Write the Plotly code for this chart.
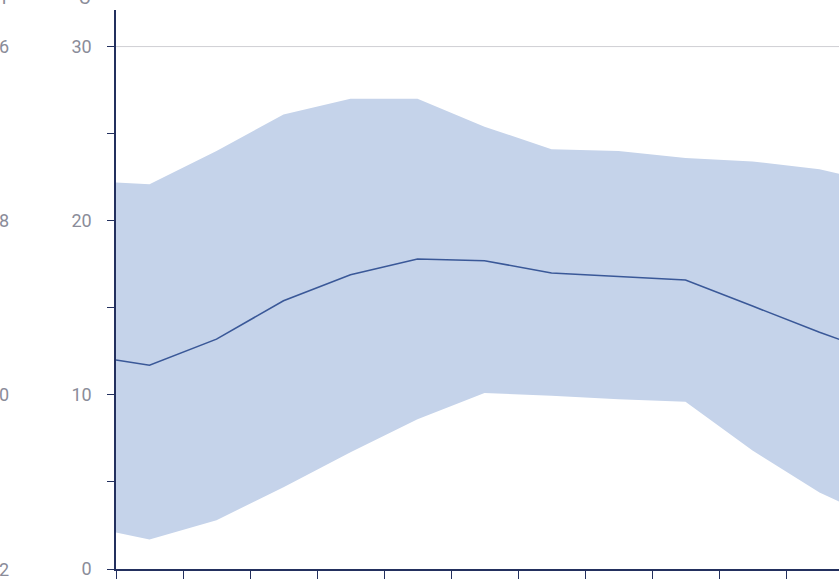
import plotly.graph_objects as go

# ---- data ----
x_pos = [0, 0.5, 1.5, 2.5, 3.5, 4.5, 5.5, 6.5, 7.5, 8.5, 9.5, 10.5, 11.5]
mean_c = [12.0, 11.7, 13.2, 15.4, 16.9, 17.8, 17.7, 17.0, 16.8, 16.6, 15.1, 13.6, 12.2]
upper_c = [22.2, 22.1, 24.0, 26.1, 27.0, 27.0, 25.4, 24.1, 24.0, 23.6, 23.4, 22.95, 22.1]
lower_c = [2.1, 1.7, 2.8, 4.7, 6.7, 8.6, 10.1, 9.95, 9.75, 9.6, 6.8, 4.4, 2.6]

c_ticks = [0, 10, 20, 30]
f_labels = ["32", "50", "68", "86"]
x_ticks = [0, 1, 2, 3, 4, 5, 6, 7, 8, 9, 10, 11]

W, H = 839, 579
ML, MR, MT, MB = 116, 0, 10, 4
plot_w = W - ML - MR
plot_h = H - MT - MB

band_color = "rgb(197,211,234)"
line_color = "#3a5898"
axis_color = "#23305e"
label_color = "#8a8c99"
font_family = "Roboto, 'Noto Sans', sans-serif"
fsize = 18

fig = go.Figure()
fig.add_trace(go.Scatter(x=x_pos, y=upper_c, mode="lines",
                         line=dict(width=0, color=band_color),
                         hoverinfo="skip", showlegend=False))
fig.add_trace(go.Scatter(x=x_pos, y=lower_c, mode="lines",
                         line=dict(width=0, color=band_color),
                         fill="tonexty", fillcolor=band_color,
                         hoverinfo="skip", showlegend=False))
fig.add_trace(go.Scatter(x=x_pos, y=mean_c, mode="lines",
                         line=dict(width=1.6, color=line_color),
                         showlegend=False))

# light reference line at the top tick
fig.add_shape(type="line", xref="paper", x0=0, x1=1, yref="y", y0=c_ticks[-1], y1=c_ticks[-1],
              line=dict(color="#cfcfd4", width=1), layer="below")

# Fahrenheit labels on the far left (cut off in the reference)
f_x = (11 - ML) / plot_w
for c, f in zip(c_ticks, f_labels):
    fig.add_annotation(x=f_x, xref="paper", y=c, yref="y", text=f, showarrow=False,
                       xanchor="right", yanchor="middle",
                       font=dict(size=fsize, color=label_color, family=font_family))

# unit titles, mostly above the visible area
title_y = (H - MB - 10) / plot_h
fig.add_annotation(x=(14 - ML) / plot_w, xref="paper", y=title_y,
                   yref="paper", text="°F", showarrow=False, xanchor="right", yanchor="bottom",
                   font=dict(size=fsize, color=label_color, family=font_family))
fig.add_annotation(x=(92 - ML) / plot_w, xref="paper", y=title_y,
                   yref="paper", text="°C", showarrow=False, xanchor="right", yanchor="bottom",
                   font=dict(size=fsize, color=label_color, family=font_family))

fig.update_layout(
    width=W, height=H,
    margin=dict(l=ML, r=MR, t=MT, b=MB, pad=0),
    paper_bgcolor="white", plot_bgcolor="white",
    font=dict(family=font_family, size=fsize, color=label_color),
    xaxis=dict(range=[0, plot_w / 67.0], tickvals=x_ticks, showticklabels=False,
               ticks="outside", ticklen=8, tickcolor=axis_color, tickwidth=1.2,
               showline=True, linecolor=axis_color, linewidth=1.5,
               showgrid=False, zeroline=False, fixedrange=True),
    yaxis=dict(range=[0, 32.1], tickvals=c_ticks,
               ticks="outside", ticklen=7, tickcolor=axis_color, tickwidth=1.2,
               minor=dict(ticks="outside", dtick=5, ticklen=7, tickcolor=axis_color, tickwidth=1.2,
                          showgrid=False),
               ticklabelstandoff=12, ticklabeloverflow="allow",
               showline=True, linecolor=axis_color, linewidth=1.5,
               showgrid=False, zeroline=False,
               tickfont=dict(size=fsize, color=label_color, family=font_family)),
)

fig.write_html("out.html", config={"displayModeBar": False},
               post_script="document.body.style.margin='0';document.body.style.overflow='hidden';")
